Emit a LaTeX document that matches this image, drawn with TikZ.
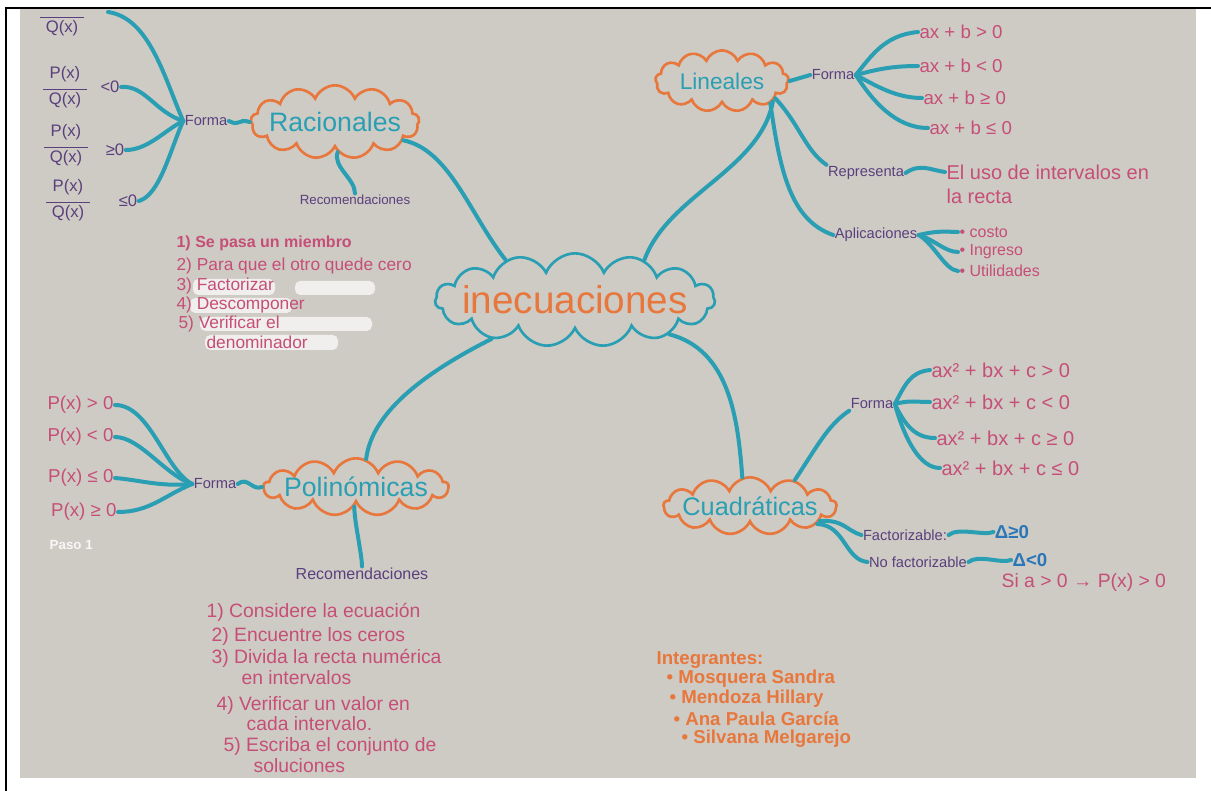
\documentclass[tikz,border=0pt]{standalone}
\usepackage{fontspec}
\setmainfont{Liberation Sans}
\usetikzlibrary{shapes.symbols}
\definecolor{paper}{HTML}{CECBC4}
\definecolor{mteal}{HTML}{2A9FB3}
\definecolor{morange}{HTML}{E8773D}
\definecolor{mpurple}{HTML}{5A3F7E}
\definecolor{mpink}{HTML}{C64E78}
\definecolor{mblue}{HTML}{2A76B8}
\newcommand{\myfs}[1]{\fontsize{#1}{#1}\selectfont}
\newcommand{\hfrac}[2]{\begin{tabular}{@{}c@{}}#1\\[-4pt]\rule{2.6em}{1pt}\\[-2pt]#2\end{tabular}}
\tikzset{
  link/.style={draw=mteal, line width=3pt, line cap=round},
  topic/.style={cloud, cloud puffs=13, cloud puff arc=135, cloud ignores aspect,
    draw=morange, line width=2pt, text=mteal, inner sep=-4pt},
  lbl/.style={text=mpurple, font=\myfs{11}, inner sep=1pt},
  itm/.style={text=mpink, font=\myfs{14}, inner sep=1pt, anchor=west},
  itmr/.style={text=mpink, font=\myfs{14}, inner sep=1pt, anchor=east},
  fracn/.style={text=mpurple, font=\myfs{12.5}, inner sep=1pt},
  recl/.style={text=mpink, font=\myfs{13}, inner sep=1pt, anchor=west},
  memb/.style={text=morange, font=\myfs{14}\bfseries, inner sep=1pt, anchor=west},
  smudge/.style={fill=white!70!paper, rounded corners=4pt},
}
\begin{document}
\begin{tikzpicture}[x=0.75pt,y=-0.75pt]
\useasboundingbox (0,0) rectangle (1211,791);
\fill[white] (0,0) rectangle (1211,791);
\fill[paper] (20,9) rectangle (1196,778);
\draw[black, line width=1.6pt] (5,8) -- (1211,8);
\draw[black, line width=1.6pt] (6,8) -- (6,791);

% main topics
\node[cloud, cloud puffs=15, cloud puff arc=135, cloud ignores aspect, draw=mteal, line width=2pt,
      minimum width=200pt, minimum height=70pt, text=morange, font=\myfs{29}, inner sep=-9pt]
      (ine) at (575,300) {inecuaciones};
\node[topic, minimum width=120pt, minimum height=55pt, font=\myfs{20}] (rac) at (335,122) {Racionales};
\node[topic, minimum width=100pt, minimum height=46pt, font=\myfs{17}] (lin) at (722,81) {Lineales};
\node[topic, minimum width=124pt, minimum height=43pt, font=\myfs{20}] (pol) at (356,487) {Polinómicas};
\node[topic, minimum width=124pt, minimum height=43pt, font=\myfs{19}] (cua) at (750,506) {Cuadráticas};

\draw[link] (rac.-15) .. controls (450,150) and (470,215) .. (ine.150);
\draw[link] (lin.-22) .. controls (760,170) and (668,195) .. (ine.30);
\draw[link] (ine.-155) .. controls (430,370) and (372,410) .. (pol.70);
\draw[link] (ine.-20) .. controls (730,350) and (738,420) .. (cua.105);

% ---- Racionales branch
\node[lbl] (formaR) at (206,121) {Forma};
\draw[link] (formaR.east) .. controls +(12,6) and +(-12,-4) .. (rac.west);
\node[fracn] (q0) at (62,22) {\begin{tabular}{@{}c@{}}\rule{2.6em}{1pt}\\[-2pt]Q(x)\end{tabular}};
\node[fracn] (f1) at (65,88) {\hfrac{P(x)}{Q(x)}};
\node[fracn] (f2) at (66,146) {\hfrac{P(x)}{Q(x)}};
\node[fracn] (f3) at (68,201) {\hfrac{P(x)}{Q(x)}};
\node[fracn] (lt0) at (110,87) {<0};
\node[fracn] (ge0) at (115,150) {≥0};
\node[fracn] (le0) at (128,201) {≤0};
\coordinate (topR) at (108,12);
\draw[link] (formaR.west) .. controls (165,80) and (150,18) .. (topR);
\draw[link] (formaR.west) .. controls (155,112) and (145,85) .. (lt0.east);
\draw[link] (formaR.west) .. controls (165,130) and (148,150) .. (ge0.east);
\draw[link] (formaR.west) .. controls (170,150) and (160,195) .. (le0.east);
\node[lbl, font=\myfs{10}] (recR) at (355,200) {Recomendaciones};
\draw[link] (rac.-85) .. controls +(-5,15) and +(0,-15) .. (recR.north);

\fill[smudge] (193,279) rectangle (275,295);
\fill[smudge] (295,281) rectangle (375,295);
\fill[smudge] (190,298) rectangle (292,313);
\fill[smudge] (200,317) rectangle (372,331);
\fill[smudge] (205,335) rectangle (338,350);
\node[recl, font=\myfs{12}\bfseries] (r1) at (175,243) {1) Se pasa un miembro};
\node[recl] (r2) at (175,266) {2) Para que el otro quede cero};
\node[recl] (r3) at (175,286) {3) Factorizar};
\node[recl] (r4) at (175,305) {4) Descomponer};
\node[recl] (r5) at (177,324) {5) Verificar el};
\node[recl] (r6) at (205,342) {denominador};

% ---- Lineales branch
\node[lbl] (formaL) at (833,75) {Forma};
\draw[link] (lin.east) -- (formaL.west);
\node[itm] (la1) at (918,32) {ax + b > 0};
\node[itm] (la2) at (918,66) {ax + b < 0};
\node[itm] (la3) at (922,98) {ax + b ≥ 0};
\node[itm] (la4) at (928,128) {ax + b ≤ 0};
\draw[link] (formaL.east) .. controls (872,55) and (885,35) .. (la1.west);
\draw[link] (formaL.east) .. controls (875,70) and (890,66) .. (la2.west);
\draw[link] (formaL.east) .. controls (875,85) and (895,98) .. (la3.west);
\draw[link] (formaL.east) .. controls (872,100) and (895,128) .. (la4.west);
\node[lbl] (rep) at (866,173) {Representa};
\node[itm, font=\myfs{15}] (uso) at (945,172) {El uso de intervalos en};
\node[itm, font=\myfs{15}] (recta) at (945,196) {la recta};
\draw[link] (lin.-18) .. controls (800,125) and (805,150) .. (rep.north west);
\draw[link] (rep.east) .. controls +(15,-10) and +(-15,-2) .. (uso.west);
\node[lbl] (apl) at (876,235) {Aplicaciones};
\draw[link] (lin.-25) .. controls (780,170) and (790,220) .. (apl.west);
\node[itm, font=\myfs{12}] (c1) at (958,232) {• costo};
\node[itm, font=\myfs{12}] (c2) at (958,252) {• Ingreso};
\node[itm, font=\myfs{12}] (c3) at (958,271) {• Utilidades};
\draw[link] (apl.east) .. controls (940,230) and (948,232) .. (c1.west);
\draw[link] (apl.east) .. controls (935,240) and (945,252) .. (c2.west);
\draw[link] (apl.east) .. controls (935,245) and (945,270) .. (c3.west);

% ---- Polinomicas branch
\node[lbl] (formaP) at (215,484) {Forma};
\draw[link] (formaP.east) .. controls +(10,-8) and +(-10,4) .. (pol.west);
\node[itmr] (p1) at (115,405) {P(x) > 0};
\node[itmr] (p2) at (115,437) {P(x) < 0};
\node[itmr] (p3) at (115,478) {P(x) ≤ 0};
\node[itmr] (p4) at (118,512) {P(x) ≥ 0};
\draw[link] (formaP.west) .. controls (165,470) and (150,405) .. (p1.east);
\draw[link] (formaP.west) .. controls (165,475) and (140,437) .. (p2.east);
\draw[link] (formaP.west) .. controls (160,487) and (140,480) .. (p3.east);
\draw[link] (formaP.west) .. controls (165,495) and (150,512) .. (p4.east);
\node[text=white!85!paper, font=\myfs{10}\bfseries, anchor=west] (paso) at (45,545) {Paso 1};
\node[lbl, font=\myfs{12}] (recP) at (362,574) {Recomendaciones};
\draw[link] (pol.-95) .. controls +(0,15) and +(0,-12) .. (recP.north);
\node[recl, font=\myfs{14.5}] (s1) at (205,612) {1) Considere la ecuación};
\node[recl, font=\myfs{14.5}] (s2) at (210,636) {2) Encuentre los ceros};
\node[recl, font=\myfs{14.5}] (s3) at (210,658) {3) Divida la recta numérica};
\node[recl, font=\myfs{14.5}] (s3b) at (240,678) {en intervalos};
\node[recl, font=\myfs{14.5}] (s4) at (215,705) {4) Verificar un valor en};
\node[recl, font=\myfs{14.5}] (s4b) at (245,724) {cada intervalo.};
\node[recl, font=\myfs{14.5}] (s5) at (222,746) {5) Escriba el conjunto de};
\node[recl, font=\myfs{14.5}] (s5b) at (252,766) {soluciones};

% ---- Cuadraticas branch
\node[lbl] (formaC) at (872,404) {Forma};
\draw[link] (cua.30) .. controls (818,445) and (828,425) .. (formaC.south west);
\node[itm, font=\myfs{15}] (q1) at (930,370) {ax² + bx + c > 0};
\node[itm, font=\myfs{15}] (q2) at (930,402) {ax² + bx + c < 0};
\node[itm, font=\myfs{15}] (q3) at (935,438) {ax² + bx + c ≥ 0};
\node[itm, font=\myfs{15}] (q4) at (940,468) {ax² + bx + c ≤ 0};
\draw[link] (formaC.east) .. controls (905,385) and (910,372) .. (q1.west);
\draw[link] (formaC.east) .. controls (910,400) and (915,402) .. (q2.west);
\draw[link] (formaC.east) .. controls (905,425) and (915,438) .. (q3.west);
\draw[link] (formaC.east) .. controls (905,440) and (920,468) .. (q4.west);
\node[lbl] (fac) at (905,535) {Factorizable:};
\node[lbl] (nf) at (918,562) {No factorizable};
\draw[link] (cua.-12) .. controls (845,520) and (845,530) .. (fac.west);
\draw[link] (cua.-15) .. controls (845,525) and (845,560) .. (nf.west);
\node[text=mblue, font=\myfs{14}\bfseries, inner sep=1pt] (d1) at (1012,532) {Δ≥0};
\node[text=mblue, font=\myfs{14}\bfseries, inner sep=1pt] (d2) at (1030,560) {Δ<0};
\draw[link] (fac.east) .. controls +(10,-8) and +(-10,4) .. (d1.west);
\draw[link] (nf.east) .. controls +(10,-8) and +(-10,4) .. (d2.west);
\node[itm, font=\myfs{14.5}] (si) at (1000,582) {Si a > 0 → P(x) > 0};

% ---- Integrantes
\node[memb] (int) at (655,660) {Integrantes:};
\node[memb] (m1) at (665,679) {• Mosquera Sandra};
\node[memb] (m2) at (668,699) {• Mendoza Hillary};
\node[memb] (m3) at (672,719) {• Ana Paula García};
\node[memb] (m4) at (680,739) {• Silvana Melgarejo};
\end{tikzpicture}
\end{document}
